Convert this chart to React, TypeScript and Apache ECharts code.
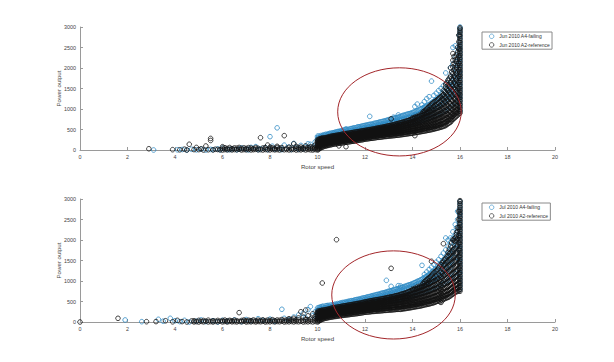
import { useEffect, useRef } from "react";
import * as echarts from "echarts";

type Row = number[];

const BLUE = "#2f8ac4";
const BLACK = "#111111";

const X_TICKS = { min: 0, max: 20, interval: 2 };
const Y_TICKS = { min: 0, max: 3000, interval: 500 };

const seriesNames = [
  "Jun 2010 A4-failing",
  "Jun 2010 A2-reference",
  "Jul 2010 A4-failing",
  "Jul 2010 A2-reference",
];

// ---------- June 2010, A4 failing (blue) ----------
const junFailLow: Row[] = [
  [3.1, 0], [4.1, 5], [4.3, 12], [4.5, 0], [4.7, 18], [4.9, 4], [5.1, 22], [5.3, 0], [5.5, 14],
  [5.6, 8], [5.8, 26], [5.9, 2], [6.0, 44], [6.2, 12], [6.3, 8], [6.4, 30], [6.6, 6], [6.7, 20],
  [6.8, 52], [7.0, 18], [7.1, 5], [7.2, 64], [7.4, 82], [7.5, 10], [7.6, 28], [7.8, 58], [7.9, 12],
  [8.0, 325], [8.1, 92], [8.2, 25], [8.3, 540], [8.4, 36], [8.5, 10], [8.6, 118], [8.8, 72],
  [8.9, 15], [9.0, 160], [9.1, 48], [9.2, 20], [9.3, 112], [9.4, 30], [9.5, 86], [9.6, 150],
  [9.7, 138], [9.8, 58], [9.9, 196],
];
const junFailBand: Row[] = [
  [10.0, 130, 215, 290, 335], [10.1, 165, 240, 310], [10.2, 185, 265, 345], [10.3, 215, 285, 360],
  [10.4, 220, 305, 375], [10.5, 245, 320, 400], [10.6, 250, 335, 405], [10.7, 275, 350, 425],
  [10.8, 280, 365, 440], [10.9, 295, 370, 455], [11.0, 300, 390, 465], [11.1, 315, 400, 485],
  [11.2, 330, 410, 490, 515], [11.3, 340, 425, 500], [11.4, 355, 430, 520], [11.5, 360, 455, 535],
  [11.6, 375, 460, 540], [11.7, 380, 470, 565], [11.8, 400, 485, 570], [11.9, 410, 500, 585],
  [12.0, 420, 505, 600], [12.1, 435, 525, 610], [12.2, 440, 530, 625, 820], [12.3, 455, 545, 630],
  [12.4, 460, 550, 650], [12.5, 475, 570, 660], [12.6, 480, 585, 680], [12.7, 495, 590, 690],
  [12.8, 500, 610, 705], [12.9, 515, 620, 720], [13.0, 520, 635, 740], [13.1, 530, 640, 755],
  [13.2, 545, 660, 770, 800], [13.3, 560, 670, 785], [13.4, 570, 690, 800, 855], [13.5, 585, 700, 820],
  [13.6, 590, 720, 845], [13.7, 610, 735, 860], [13.8, 620, 750, 875], [13.9, 640, 770, 890],
  [14.0, 655, 780, 910], [14.1, 670, 805, 930, 1060], [14.2, 680, 820, 960, 1120],
  [14.3, 700, 845, 990], [14.4, 720, 870, 1010, 1100], [14.5, 740, 890, 1045, 1180],
  [14.6, 765, 910, 1070, 1250], [14.7, 780, 945, 1100, 1300], [14.8, 805, 970, 1140, 1680],
  [14.9, 820, 1000, 1185, 1330], [15.0, 850, 1035, 1220, 1385], [15.1, 875, 1060, 1265, 1450],
  [15.2, 900, 1105, 1300, 1500], [15.3, 935, 1140, 1350, 1565], [15.4, 960, 1185, 1400, 1620, 1880],
  [15.5, 1005, 1230, 1460, 1705], [15.6, 1050, 1295, 1530, 1780, 2010],
  [15.7, 1100, 1350, 1605, 1860, 2100, 2500], [15.8, 1155, 1420, 1700, 1985, 2260, 2540],
  [15.9, 1250, 1505, 1800, 2100, 2400],
  [15.97, 1300, 1600, 1900, 2200, 2500, 2800],
  [16.0, 950, 1030, 1110, 1190, 1270, 1350, 1430, 1510, 1590, 1670, 1750, 1830, 1910, 1990, 2070,
    2150, 2230, 2310, 2390, 2470, 2550, 2630, 2710, 2790, 2870, 2940, 3000],
];
const junFailBandMid: Row[] = [
  [10.05, 250, 300, 340], [10.15, 270, 320, 355], [10.25, 285, 335, 370], [10.35, 300, 350, 385],
  [10.45, 310, 360, 395], [10.55, 325, 375, 410], [10.65, 335, 385, 420], [10.75, 345, 400, 435],
  [10.85, 355, 410, 450], [10.95, 365, 420, 460], [11.05, 380, 430, 475], [11.15, 390, 445, 490],
  [11.25, 400, 455, 500], [11.35, 410, 465, 510], [11.45, 420, 480, 525], [11.55, 430, 490, 540],
  [11.65, 440, 500, 550], [11.75, 450, 515, 565], [11.85, 460, 525, 578], [11.95, 470, 538, 592],
  [12.05, 482, 548, 605], [12.15, 492, 560, 618], [12.25, 502, 572, 630], [12.35, 512, 585, 642],
  [12.45, 524, 598, 655], [12.55, 536, 610, 668], [12.65, 546, 622, 684], [12.75, 556, 636, 698],
  [12.85, 568, 650, 712], [12.95, 580, 662, 728], [13.05, 592, 676, 745], [13.15, 605, 690, 760],
  [13.25, 618, 705, 776], [13.35, 632, 720, 792], [13.45, 646, 736, 810], [13.55, 660, 752, 828],
  [13.65, 676, 770, 848], [13.75, 692, 788, 866], [13.85, 710, 806, 884], [13.95, 728, 826, 902],
  [14.05, 748, 846, 924], [14.15, 770, 868, 948], [14.25, 792, 892, 975], [14.35, 816, 918, 1002],
  [14.45, 842, 946, 1032], [14.55, 870, 976, 1064], [14.65, 900, 1008, 1098], [14.75, 932, 1042, 1134],
  [14.85, 966, 1078, 1172], [14.95, 1002, 1116, 1212], [15.05, 1040, 1158, 1260],
  [15.15, 1082, 1204, 1312], [15.25, 1128, 1254, 1368], [15.35, 1180, 1310, 1430],
  [15.45, 1238, 1374, 1500], [15.55, 1304, 1446, 1580], [15.65, 1380, 1530, 1680],
  [15.75, 1470, 1630, 1800], [15.85, 1580, 1760, 1950, 2150],
];

// ---------- June 2010, A2 reference (black) ----------
const junRefLow: Row[] = [
  [2.9, 30], [3.9, 8], [4.2, 5], [4.4, 20], [4.5, 0], [4.6, 140], [4.8, 10], [4.9, 62], [5.0, 10],
  [5.1, 28], [5.2, 0], [5.3, 98], [5.4, 6], [5.5, 232, 282], [5.6, 2], [5.7, 18], [5.8, 12], [5.9, 6],
  [6.0, 0, 42, 80], [6.1, 10, 55], [6.2, 4, 38], [6.3, 15, 60], [6.4, 2, 34], [6.5, 12, 50],
  [6.6, 6, 44], [6.7, 18, 62], [6.8, 0, 36], [6.9, 10, 52], [7.0, 4, 40], [7.1, 14, 58],
  [7.2, 2, 46], [7.3, 8, 34], [7.4, 16, 60], [7.5, 4, 42], [7.6, 10, 300], [7.7, 0, 48],
  [7.8, 12, 56], [7.9, 6, 120], [8.0, 2, 40, 70], [8.1, 14, 52], [8.2, 4, 36], [8.3, 10, 62, 90],
  [8.4, 0, 44], [8.5, 16, 58], [8.6, 6, 350], [8.7, 12, 40], [8.8, 2, 66], [8.9, 8, 48],
  [9.0, 14, 150], [9.1, 0, 42, 88], [9.2, 10, 60], [9.3, 4, 36, 72], [9.4, 16, 54],
  [9.5, 2, 40, 100], [9.6, 12, 62], [9.7, 6, 46, 80], [9.8, 0, 34, 70], [9.9, 10, 50, 120],
];
const junRefBand: Row[] = [
  [10.0, 0, 28, 62, 95, 118, 152, 186, 214, 250], [10.1, 42, 77, 108, 146, 183, 212, 248, 272],
  [10.2, 68, 104, 143, 171, 208, 247, 276, 292], [10.3, 93, 122, 158, 197, 228, 262, 298],
  [10.4, 104, 143, 172, 214, 243, 281, 308], [10.5, 122, 151, 193, 222, 262, 291, 324],
  [10.6, 133, 172, 203, 244, 272, 313, 337], [10.7, 148, 178, 219, 248, 287, 318, 348],
  [10.8, 153, 194, 222, 263, 296, 332, 357], [10.9, 100, 166, 198, 238, 268, 307, 338, 366],
  [11.0, 172, 207, 238, 279, 308, 347, 378], [11.1, 178, 218, 248, 288, 323, 352, 392],
  [11.2, 80, 192, 223, 263, 292, 333, 362, 401], [11.3, 198, 238, 268, 307, 342, 373, 408],
  [11.4, 207, 242, 279, 312, 348, 383, 417], [11.5, 214, 253, 283, 324, 353, 392, 428],
  [11.6, 226, 258, 297, 328, 367, 398, 437], [11.7, 233, 272, 303, 343, 372, 412, 446],
  [11.8, 246, 278, 318, 348, 388, 418, 457], [11.9, 252, 293, 322, 363, 392, 433, 466],
  [12.0, 267, 298, 338, 368, 408, 438, 477], [12.1, 273, 313, 343, 383, 413, 453, 486],
  [12.2, 282, 318, 357, 388, 427, 458, 497], [12.3, 288, 332, 362, 402, 433, 472, 508],
  [12.4, 297, 337, 377, 408, 447, 483, 516], [12.5, 306, 344, 383, 421, 458, 497, 532],
  [12.6, 312, 352, 392, 428, 467, 506, 541], [12.7, 318, 361, 398, 441, 477, 514, 552],
  [12.8, 327, 366, 409, 447, 488, 527, 563], [12.9, 332, 376, 413, 458, 494, 538, 576],
  [13.0, 338, 381, 423, 463, 507, 546, 592], [13.1, 344, 387, 432, 474, 513, 558, 604, 760],
  [13.2, 351, 396, 438, 483, 526, 567, 617], [13.3, 357, 401, 448, 491, 536, 582, 632],
  [13.4, 363, 411, 454, 503, 548, 593, 648], [13.5, 372, 417, 466, 511, 561, 608, 663],
  [13.6, 378, 427, 473, 524, 572, 621, 681], [13.7, 388, 434, 486, 533, 587, 636, 697],
  [13.8, 396, 446, 494, 548, 598, 652, 716], [13.9, 404, 452, 507, 557, 613, 668, 737],
  [14.0, 413, 464, 516, 572, 626, 686, 758, 782], [14.1, 350, 422, 472, 529, 583, 641, 703, 776, 802],
  [14.2, 431, 484, 538, 598, 654, 722, 797, 824], [14.3, 442, 494, 552, 611, 672, 741, 818, 852],
  [14.4, 452, 507, 563, 627, 688, 762, 839, 883], [14.5, 463, 517, 579, 641, 708, 783, 862, 911, 952],
  [14.6, 474, 531, 592, 658, 726, 806, 887, 942, 1003],
  [14.7, 486, 543, 608, 674, 748, 828, 914, 982, 1062],
  [14.8, 498, 558, 622, 694, 768, 853, 943, 1023, 1118],
  [14.9, 511, 571, 639, 712, 792, 878, 973, 1066, 1163],
  [15.0, 526, 588, 657, 734, 816, 906, 1004, 1107, 1202],
  [15.1, 542, 604, 677, 756, 842, 937, 1038, 1146, 1254],
  [15.2, 558, 623, 698, 781, 871, 968, 1074, 1188, 1302],
  [15.3, 577, 644, 722, 808, 902, 1004, 1113, 1232, 1351, 1452],
  [15.4, 598, 668, 748, 838, 936, 1042, 1157, 1282, 1414, 1538, 1602],
  [15.5, 648, 712, 788, 872, 966, 1074, 1188, 1312, 1446, 1584, 1702],
  [15.6, 678, 752, 833, 923, 1021, 1128, 1244, 1372, 1508, 1652, 1804, 2002],
  [15.7, 748, 822, 904, 994, 1092, 1198, 1314, 1438, 1572, 1716, 1868, 2024, 2186, 2352],
  [15.8, 798, 872, 952, 1042, 1138, 1244, 1358, 1482, 1614, 1756, 1904, 2062, 2204],
  [15.9, 848, 918, 996, 1082, 1176, 1278, 1388, 1506, 1632, 1766, 1908, 2058, 2214, 2372, 2502],
  [15.95, 880, 960, 1050, 1150, 1260, 1380, 1510, 1650, 1800, 1960, 2120, 2290, 2460, 2640, 2800],
  [16.0, 900, 945, 990, 1040, 1085, 1130, 1180, 1225, 1270, 1320, 1365, 1410, 1460, 1505, 1550,
    1600, 1645, 1690, 1740, 1785, 1830, 1880, 1925, 1970, 2020, 2065, 2110, 2160, 2205, 2250,
    2300, 2345, 2390, 2440, 2485, 2530, 2580, 2625, 2670, 2720, 2765, 2810, 2860, 2905, 2950, 2980],
];
const junRefBandMid: Row[] = [
  [10.05, 15, 52, 88, 126, 163, 198, 232, 262], [10.15, 58, 94, 128, 162, 196, 231, 262, 284],
  [10.25, 82, 117, 152, 186, 221, 256, 288], [10.35, 98, 134, 168, 203, 238, 272, 303],
  [10.45, 113, 148, 184, 218, 254, 287, 316], [10.55, 127, 162, 197, 233, 267, 302, 331],
  [10.65, 140, 174, 211, 246, 281, 316, 343], [10.75, 151, 186, 221, 256, 292, 326, 352],
  [10.85, 159, 196, 231, 266, 302, 336, 362], [10.95, 168, 203, 238, 273, 308, 343, 372],
  [11.05, 176, 212, 246, 283, 317, 352, 385], [11.15, 185, 221, 256, 292, 327, 362, 396],
  [11.25, 194, 231, 266, 302, 337, 372, 404], [11.35, 203, 238, 274, 309, 346, 381, 412],
  [11.45, 211, 247, 282, 318, 353, 389, 422], [11.55, 219, 256, 291, 327, 362, 398, 432],
  [11.65, 229, 264, 301, 336, 372, 407, 441], [11.75, 239, 274, 311, 346, 382, 417, 451],
  [11.85, 248, 284, 321, 356, 393, 428, 461], [11.95, 259, 294, 331, 367, 403, 438, 471],
  [12.05, 269, 306, 341, 378, 413, 449, 482], [12.15, 277, 314, 351, 388, 424, 461, 492],
  [12.25, 284, 322, 359, 397, 434, 472, 502], [12.35, 292, 331, 369, 407, 445, 482, 512],
  [12.45, 301, 341, 379, 418, 457, 494, 524], [12.55, 308, 348, 389, 428, 468, 506, 536],
  [12.65, 314, 356, 397, 437, 478, 518, 547], [12.75, 322, 364, 406, 448, 489, 530, 557],
  [12.85, 329, 372, 414, 457, 499, 541, 569], [12.95, 336, 379, 423, 466, 509, 552, 583],
  [13.05, 341, 386, 431, 475, 519, 563, 597], [13.15, 348, 393, 439, 485, 530, 575, 611],
  [13.25, 354, 401, 447, 494, 541, 588, 624], [13.35, 361, 408, 456, 504, 552, 600, 640],
  [13.45, 367, 416, 465, 514, 563, 612, 656], [13.55, 375, 424, 474, 524, 575, 626, 672],
  [13.65, 383, 433, 484, 536, 587, 640, 689], [13.75, 392, 442, 494, 547, 600, 654, 707],
  [13.85, 400, 451, 505, 559, 614, 670, 726], [13.95, 409, 461, 516, 572, 629, 687, 748],
  [14.05, 418, 472, 528, 586, 645, 706, 770], [14.15, 427, 482, 540, 600, 662, 726, 792],
  [14.25, 437, 494, 553, 615, 680, 746, 814], [14.35, 447, 505, 567, 631, 698, 768, 838],
  [14.45, 458, 518, 581, 648, 718, 790, 866, 932], [14.55, 469, 531, 596, 665, 738, 814, 893, 975],
  [14.65, 480, 544, 612, 684, 760, 839, 921, 1032], [14.75, 492, 558, 629, 704, 783, 865, 952, 1088],
  [14.85, 504, 573, 646, 724, 806, 893, 984, 1140], [14.95, 518, 589, 665, 746, 832, 922, 1018, 1182],
  [15.05, 534, 607, 686, 770, 860, 954, 1054, 1228], [15.15, 550, 626, 708, 796, 890, 988, 1092, 1276],
  [15.25, 567, 647, 733, 825, 922, 1025, 1133, 1247, 1326],
  [15.35, 588, 670, 760, 856, 958, 1066, 1180, 1300, 1420],
  [15.45, 622, 700, 790, 886, 990, 1100, 1218, 1344, 1476, 1640],
  [15.55, 662, 740, 830, 928, 1034, 1148, 1270, 1400, 1536, 1750],
  [15.65, 712, 790, 878, 976, 1082, 1198, 1322, 1454, 1594, 1742, 1900],
  [15.75, 772, 850, 938, 1034, 1140, 1254, 1376, 1508, 1648, 1796, 1950, 2110, 2280],
  [15.85, 822, 900, 988, 1086, 1192, 1306, 1430, 1562, 1702, 1850, 2004, 2160, 2320],
];

// ---------- July 2010, A4 failing (blue) ----------
const julFailLow: Row[] = [
  [1.9, 50], [2.6, 8], [3.3, 65], [3.5, 20], [3.8, 90], [4.0, 30], [4.2, 10], [4.4, 40], [4.6, 0],
  [4.9, 20], [5.1, 50], [5.3, 10], [5.6, 30], [5.8, 0], [6.0, 40], [6.2, 20], [6.5, 50], [6.8, 10],
  [7.0, 60], [7.2, 30], [7.5, 80], [7.7, 40], [8.0, 70], [8.2, 20], [8.5, 310], [8.6, 90],
  [8.8, 50], [9.0, 120], [9.2, 170], [9.4, 210], [9.5, 100], [9.6, 300], [9.7, 375], [9.8, 150],
  [9.9, 250],
];
const julFailBand: Row[] = [
  [10.0, 120, 200, 280, 340], [10.1, 150, 230, 310, 360], [10.2, 180, 250, 330, 380],
  [10.3, 200, 270, 345], [10.4, 210, 290, 360, 400], [10.5, 230, 305, 380], [10.6, 240, 320, 390],
  [10.7, 260, 335, 410], [10.8, 270, 350, 420], [10.9, 285, 360, 440], [11.0, 300, 380, 460],
  [11.1, 310, 390, 470], [11.2, 320, 405, 480], [11.3, 330, 410, 500], [11.4, 340, 425, 510],
  [11.5, 350, 440, 520], [11.6, 360, 450, 540], [11.7, 370, 465, 550], [11.8, 390, 470, 560],
  [11.9, 400, 490, 580], [12.0, 410, 500, 590], [12.1, 420, 515, 610], [12.2, 430, 520, 620],
  [12.3, 440, 540, 640], [12.4, 450, 550, 650], [12.5, 460, 565, 670], [12.6, 470, 580, 680],
  [12.7, 480, 590, 700], [12.8, 490, 605, 710], [12.9, 500, 620, 730, 1016], [13.0, 510, 630, 750],
  [13.1, 520, 640, 760, 870], [13.2, 530, 660, 780], [13.3, 550, 670, 800],
  [13.4, 560, 690, 810, 886], [13.5, 570, 700, 830, 880], [13.6, 580, 720, 850],
  [13.7, 600, 730, 870], [13.8, 610, 750, 890], [13.9, 630, 770, 910], [14.0, 640, 790, 930],
  [14.1, 660, 810, 960], [14.2, 680, 830, 990], [14.3, 700, 850, 1010],
  [14.4, 720, 880, 1040, 1382], [14.5, 740, 900, 1080, 1160], [14.6, 760, 930, 1110, 1220],
  [14.7, 780, 960, 1150, 1280], [14.8, 800, 990, 1190, 1340], [14.9, 830, 1020, 1230, 1400],
  [15.0, 850, 1060, 1280, 1460], [15.1, 880, 1100, 1330, 1520], [15.2, 910, 1140, 1380, 1600],
  [15.3, 940, 1180, 1440, 1680], [15.4, 980, 1230, 1500, 1760, 2050],
  [15.5, 1020, 1280, 1570, 1850, 2000], [15.6, 1070, 1340, 1640, 1940, 2050],
  [15.7, 1120, 1400, 1720, 2040, 2200], [15.8, 1180, 1480, 1800, 2120, 2380],
  [15.9, 1250, 1560, 1900, 2240, 2500, 2700],
  [15.97, 1200, 1500, 1800, 2100, 2400, 2650],
  [16.0, 800, 880, 960, 1040, 1120, 1200, 1280, 1360, 1440, 1520, 1600, 1680, 1760, 1840, 1920,
    2000, 2080, 2160, 2240, 2320, 2400, 2480, 2560, 2640, 2720, 2800, 2880, 2940],
];
const julFailBandMid: Row[] = [
  [10.05, 240, 300, 350], [10.15, 265, 320, 370], [10.25, 280, 335, 385], [10.35, 295, 350, 395],
  [10.45, 308, 362, 405], [10.55, 320, 375, 415], [10.65, 330, 386, 425], [10.75, 340, 398, 438],
  [10.85, 350, 410, 450], [10.95, 362, 420, 462], [11.05, 374, 432, 475], [11.15, 384, 442, 486],
  [11.25, 394, 455, 498], [11.35, 404, 466, 510], [11.45, 414, 478, 522], [11.55, 424, 490, 535],
  [11.65, 434, 502, 548], [11.75, 446, 514, 560], [11.85, 458, 526, 574], [11.95, 470, 540, 588],
  [12.05, 482, 552, 602], [12.15, 494, 565, 616], [12.25, 506, 578, 630], [12.35, 518, 592, 646],
  [12.45, 530, 606, 660], [12.55, 542, 620, 675], [12.65, 554, 634, 690], [12.75, 566, 648, 706],
  [12.85, 580, 662, 722], [12.95, 594, 678, 740], [13.05, 608, 694, 756], [13.15, 622, 710, 772],
  [13.25, 638, 726, 790], [13.35, 654, 744, 808], [13.45, 670, 762, 826], [13.55, 686, 780, 846],
  [13.65, 704, 800, 866], [13.75, 722, 820, 886], [13.85, 742, 840, 906], [13.95, 762, 862, 926],
  [14.05, 784, 884, 948], [14.15, 806, 908, 974], [14.25, 830, 934, 1002], [14.35, 856, 962, 1032],
  [14.45, 884, 992, 1066], [14.55, 914, 1026, 1102], [14.65, 946, 1062, 1142], [14.75, 980, 1100, 1186],
  [14.85, 1016, 1142, 1232], [14.95, 1056, 1188, 1284], [15.05, 1100, 1238, 1340],
  [15.15, 1148, 1292, 1400], [15.25, 1200, 1352, 1466], [15.35, 1258, 1418, 1540],
  [15.45, 1322, 1490, 1624], [15.55, 1394, 1570, 1720], [15.65, 1476, 1660, 1830],
  [15.75, 1570, 1764, 1950], [15.85, 1680, 1886, 2090, 2300],
];

// ---------- July 2010, A2 reference (black) ----------
const julRefLow: Row[] = [
  [0, 0], [1.6, 90], [2.8, 8], [3.2, 10], [3.6, 30], [3.9, 5], [4.1, 40], [4.3, 10], [4.5, 0],
  [4.7, 25], [4.8, 2, 30], [4.9, 10], [5.0, 0, 40], [5.1, 14], [5.2, 4, 36], [5.3, 20],
  [5.4, 2, 44], [5.5, 12], [5.6, 0, 30], [5.7, 16], [5.8, 6, 38], [5.9, 20], [6.0, 2, 34],
  [6.1, 12, 46], [6.2, 0, 28], [6.3, 16, 40], [6.4, 4, 30], [6.5, 10, 44], [6.6, 2, 32],
  [6.7, 14, 228], [6.8, 6, 36], [6.9, 18, 48], [7.0, 0, 30], [7.1, 10, 42], [7.2, 4, 34],
  [7.3, 14, 50], [7.4, 2, 30], [7.5, 12, 44], [7.6, 6, 36], [7.7, 16, 52], [7.8, 0, 32],
  [7.9, 10, 46], [8.0, 4, 38], [8.1, 14, 56], [8.2, 2, 34], [8.3, 12, 48], [8.4, 6, 40],
  [8.5, 18, 60], [8.6, 0, 36], [8.7, 10, 50], [8.8, 4, 42, 80], [8.9, 14, 58], [9.0, 2, 40, 90],
  [9.1, 12, 54], [9.2, 6, 46, 100], [9.3, 16, 250], [9.4, 0, 40, 120], [9.5, 10, 60, 290],
  [9.6, 4, 50, 150], [9.7, 14, 70], [9.8, 2, 60, 200], [9.9, 12, 80, 140],
];
const julRefBand: Row[] = [
  [10.0, 0, 32, 66, 98, 127, 162, 194, 228, 260], [10.1, 38, 72, 106, 141, 177, 213, 244, 270],
  [10.2, 66, 101, 133, 168, 204, 238, 268, 291, 951], [10.3, 88, 122, 157, 188, 224, 257, 298],
  [10.4, 98, 136, 166, 204, 236, 274, 309], [10.5, 112, 146, 183, 214, 252, 284, 321],
  [10.6, 121, 158, 191, 228, 262, 298, 338], [10.7, 132, 166, 204, 237, 276, 311, 349],
  [10.8, 139, 177, 212, 251, 286, 322, 358, 2008], [10.9, 148, 186, 223, 258, 297, 333, 368],
  [11.0, 158, 196, 231, 268, 306, 342, 379], [11.1, 164, 203, 241, 277, 316, 352, 391],
  [11.2, 172, 211, 248, 288, 324, 363, 399], [11.3, 178, 218, 258, 296, 334, 372, 411],
  [11.4, 188, 226, 264, 306, 342, 383, 419], [11.5, 194, 236, 273, 313, 353, 391, 431],
  [11.6, 202, 242, 283, 322, 361, 402, 441], [11.7, 208, 251, 290, 332, 371, 411, 452],
  [11.8, 218, 258, 301, 341, 382, 422, 461], [11.9, 228, 268, 309, 352, 391, 433, 474],
  [12.0, 238, 278, 321, 361, 403, 443, 488], [12.1, 244, 286, 328, 372, 412, 456, 498],
  [12.2, 248, 292, 337, 379, 424, 466, 511], [12.3, 256, 301, 343, 389, 433, 477, 521],
  [12.4, 261, 306, 352, 397, 443, 487, 532], [12.5, 266, 313, 358, 407, 452, 498, 541],
  [12.6, 271, 318, 367, 413, 462, 507, 552], [12.7, 276, 326, 373, 423, 471, 518, 562],
  [12.8, 281, 331, 382, 431, 481, 528, 576], [12.9, 286, 338, 388, 441, 489, 539, 588],
  [13.0, 291, 343, 397, 448, 501, 549, 601], [13.1, 294, 348, 403, 458, 509, 561, 612, 1309],
  [13.2, 301, 356, 411, 466, 521, 572, 622], [13.3, 306, 362, 418, 476, 531, 586, 641],
  [13.4, 311, 368, 427, 484, 543, 598, 652], [13.5, 309, 376, 434, 496, 553, 612, 672],
  [13.6, 321, 382, 443, 506, 566, 626, 688], [13.7, 328, 391, 452, 517, 578, 642, 708],
  [13.8, 338, 399, 463, 528, 593, 657, 728], [13.9, 347, 408, 473, 541, 607, 676, 756],
  [14.0, 358, 418, 484, 553, 622, 694, 778, 801], [14.1, 368, 428, 496, 566, 638, 712, 792, 822],
  [14.2, 378, 441, 508, 581, 654, 732, 812, 852], [14.3, 388, 452, 522, 596, 671, 751, 832, 871],
  [14.4, 399, 464, 536, 611, 689, 772, 856, 902],
  [14.5, 418, 481, 552, 628, 709, 794, 879, 931, 981],
  [14.6, 428, 494, 568, 646, 729, 817, 906, 962, 1032],
  [14.7, 441, 508, 584, 664, 751, 841, 934, 1002, 1081],
  [14.8, 458, 524, 602, 686, 774, 867, 964, 1043, 1141, 1480],
  [14.9, 471, 541, 621, 707, 798, 893, 996, 1084, 1201],
  [15.0, 498, 563, 643, 731, 824, 922, 1028, 1124, 1252],
  [15.1, 518, 586, 668, 757, 853, 954, 1063, 1166, 1318],
  [15.2, 478, 541, 612, 694, 784, 882, 986, 1098, 1212, 1401],
  [15.3, 558, 631, 714, 806, 906, 1014, 1132, 1256, 1382, 1482, 1910],
  [15.4, 579, 654, 741, 836, 941, 1054, 1176, 1304, 1438, 1552],
  [15.5, 601, 678, 768, 868, 976, 1093, 1218, 1352, 1492, 1622, 1701],
  [15.6, 638, 716, 808, 908, 1018, 1138, 1266, 1402, 1546, 1698, 1852],
  [15.7, 681, 758, 848, 948, 1058, 1178, 1308, 1448, 1596, 1756, 2002],
  [15.8, 728, 803, 892, 992, 1102, 1222, 1352, 1492, 1642, 1802, 1968, 2052],
  [15.9, 748, 826, 918, 1022, 1136, 1260, 1394, 1538, 1692, 1856, 2028, 2206, 2302],
  [15.95, 760, 850, 950, 1060, 1180, 1310, 1450, 1600, 1760, 1930, 2110, 2300, 2500, 2700],
  [16.0, 750, 795, 840, 886, 931, 977, 1022, 1068, 1113, 1159, 1204, 1250, 1295, 1341, 1386,
    1432, 1477, 1523, 1568, 1614, 1659, 1705, 1750, 1796, 1841, 1887, 1932, 1978, 2023, 2069,
    2114, 2160, 2205, 2251, 2296, 2342, 2387, 2433, 2478, 2524, 2569, 2615, 2660, 2706, 2751,
    2797, 2842, 2888, 2933, 2960],
];
const julRefBandMid: Row[] = [
  [10.05, 18, 52, 86, 120, 158, 196, 236, 266], [10.15, 54, 88, 122, 158, 193, 228, 258, 281],
  [10.25, 78, 112, 146, 180, 214, 248, 284], [10.35, 93, 128, 162, 197, 231, 266, 303],
  [10.45, 106, 141, 176, 210, 245, 280, 315], [10.55, 117, 152, 187, 222, 257, 292, 330],
  [10.65, 126, 162, 198, 233, 269, 305, 344], [10.75, 135, 172, 208, 244, 281, 316, 354],
  [10.85, 144, 181, 218, 255, 292, 328, 363], [10.95, 153, 191, 228, 264, 302, 338, 374],
  [11.05, 161, 199, 236, 273, 311, 348, 385], [11.15, 168, 207, 245, 283, 320, 358, 395],
  [11.25, 175, 214, 253, 292, 330, 368, 405], [11.35, 183, 222, 261, 301, 339, 378, 415],
  [11.45, 191, 231, 269, 310, 348, 387, 425], [11.55, 198, 239, 278, 318, 357, 397, 436],
  [11.65, 205, 246, 287, 327, 366, 407, 447], [11.75, 213, 254, 296, 336, 376, 417, 457],
  [11.85, 223, 263, 305, 346, 387, 428, 468], [11.95, 233, 273, 315, 356, 397, 438, 481],
  [12.05, 241, 282, 325, 367, 408, 450, 493], [12.15, 246, 289, 332, 376, 418, 461, 505],
  [12.25, 252, 296, 340, 384, 428, 472, 516], [12.35, 258, 303, 348, 393, 438, 482, 527],
  [12.45, 263, 309, 355, 402, 447, 493, 537], [12.55, 268, 315, 362, 410, 457, 503, 547],
  [12.65, 273, 322, 370, 418, 466, 513, 557], [12.75, 278, 328, 378, 427, 476, 523, 569],
  [12.85, 283, 334, 385, 436, 485, 534, 582], [12.95, 288, 340, 392, 444, 495, 544, 595],
  [13.05, 292, 345, 400, 453, 505, 555, 607], [13.15, 297, 352, 407, 462, 515, 566, 617],
  [13.25, 303, 359, 414, 471, 526, 579, 632], [13.35, 308, 365, 422, 480, 537, 592, 646],
  [13.45, 312, 372, 430, 490, 548, 605, 662], [13.55, 315, 379, 438, 501, 560, 619, 680],
  [13.65, 324, 386, 447, 511, 572, 634, 698], [13.75, 333, 395, 458, 522, 585, 650, 718],
  [13.85, 342, 403, 468, 534, 600, 666, 742], [13.95, 352, 413, 478, 547, 614, 685, 767],
  [14.05, 363, 423, 490, 559, 630, 703, 785], [14.15, 373, 434, 502, 573, 646, 722, 802],
  [14.25, 383, 446, 515, 588, 662, 741, 822], [14.35, 393, 458, 529, 603, 680, 761, 844],
  [14.45, 408, 472, 544, 620, 699, 783, 867, 942], [14.55, 423, 488, 560, 637, 719, 805, 892, 1006],
  [14.65, 434, 501, 576, 655, 740, 829, 920, 1056], [14.75, 449, 516, 593, 675, 762, 854, 949, 1110],
  [14.85, 464, 532, 611, 696, 786, 880, 980, 1170], [14.95, 484, 552, 632, 719, 811, 907, 1012, 1226],
  [15.05, 508, 574, 655, 744, 838, 938, 1045, 1284],
  [15.15, 498, 563, 640, 725, 818, 918, 1024, 1136, 1358],
  [15.25, 519, 586, 663, 750, 845, 948, 1059, 1177, 1306, 1441],
  [15.35, 568, 642, 727, 821, 923, 1034, 1154, 1280, 1410, 1517],
  [15.45, 590, 666, 754, 852, 958, 1073, 1197, 1328, 1465, 1587],
  [15.55, 620, 697, 788, 888, 997, 1115, 1242, 1377, 1519, 1660, 1776],
  [15.65, 660, 737, 828, 928, 1038, 1158, 1287, 1425, 1571, 1727, 1926],
  [15.75, 704, 780, 870, 970, 1080, 1200, 1330, 1470, 1619, 1779, 1985, 2026],
  [15.85, 738, 814, 905, 1007, 1119, 1241, 1373, 1515, 1667, 1829, 1998, 2129, 2180],
];

// Highlight ellipses, in data units: [centerX, centerY, halfWidth, halfHeight]
const junEllipse = [13.45, 930, 2.6, 1075];
const julEllipse = [13.2, 660, 2.6, 1075];

const flat = (rows: Row[]) => rows.flatMap(([x, ...ys]) => ys.map((y) => [x, y]));

const FONT = "Liberation Sans, Arial, sans-serif";

function axisPair(gridIndex: number) {
  const common = {
    gridIndex,
    axisLine: { show: true, lineStyle: { color: "#9a9a9a", width: 1 } },
    axisTick: { show: true, inside: true, length: 3, lineStyle: { color: "#9a9a9a" } },
    splitLine: { show: false },
    nameMoveOverlap: false,
    nameTextStyle: { color: "#444", fontSize: 6.1, fontFamily: FONT },
  };
  const label = { color: "#444", fontSize: 5.4, fontFamily: FONT, margin: 4, formatter: (v: number) => String(v) };
  return {
    x: {
      ...common,
      type: "value",
      ...X_TICKS,
      name: "Rotor speed",
      nameLocation: "middle",
      nameGap: 13,
      axisLabel: label,
    },
    y: {
      ...common,
      type: "value",
      ...Y_TICKS,
      name: "Power output",
      nameLocation: "middle",
      nameGap: 19,
      axisLabel: label,
    },
  };
}

function scatter(name: string, rows: Row[][], color: string, idx: number) {
  return {
    type: "scatter",
    name,
    xAxisIndex: idx,
    yAxisIndex: idx,
    symbol: "circle",
    symbolSize: 4.6,
    silent: true,
    large: false,
    data: rows.flatMap(flat),
    itemStyle: { color: "rgba(0,0,0,0)", borderColor: color, borderWidth: 1 },
  };
}

function legendFor(names: string[], top: number) {
  return {
    orient: "vertical",
    left: 482,
    top,
    itemWidth: 5,
    itemHeight: 4.5,
    itemGap: 2.6,
    padding: [1.3, 2, 1.3, 7],
    borderColor: "#8a8a8a",
    borderWidth: 1,
    backgroundColor: "#fff",
    selectedMode: false,
    textStyle: { fontSize: 5, lineHeight: 6, color: "#333", fontFamily: FONT },
    data: names.map((n, i) => ({
      name: n,
      icon: "circle",
      itemStyle: { color: "rgba(0,0,0,0)", borderColor: i === 0 ? BLUE : BLACK, borderWidth: 0.8 },
    })),
  };
}

export default function App() {
  const ref = useRef<HTMLDivElement>(null);
  useEffect(() => {
    if (!ref.current) return;
    const chart = echarts.init(ref.current, undefined, { renderer: "svg" });
    const a0 = axisPair(0);
    const a1 = axisPair(1);
    chart.setOption({
      animation: false,
      backgroundColor: "#fff",
      grid: [
        { left: 80, width: 475, top: 27, height: 123 },
        { left: 80, width: 475, top: 199, height: 123 },
      ],
      xAxis: [a0.x, a1.x],
      yAxis: [a0.y, a1.y],
      legend: [legendFor(seriesNames.slice(0, 2), 32), legendFor(seriesNames.slice(2, 4), 203)],
      series: [
        scatter(seriesNames[0], [junFailLow, junFailBand, junFailBandMid], BLUE, 0),
        scatter(seriesNames[1], [junRefLow, junRefBand, junRefBandMid], BLACK, 0),
        scatter(seriesNames[2], [julFailLow, julFailBand, julFailBandMid], BLUE, 1),
        scatter(seriesNames[3], [julRefLow, julRefBand, julRefBandMid], BLACK, 1),
      ],
    });
    const ell = (e: number[], i: number) => {
      const finder = { xAxisIndex: i, yAxisIndex: i };
      const c = chart.convertToPixel(finder, [e[0], e[1]]) as number[];
      const p = chart.convertToPixel(finder, [e[0] + e[2], e[1] + e[3]]) as number[];
      return {
        type: "ellipse",
        silent: true,
        z: 100,
        shape: { cx: c[0], cy: c[1], rx: p[0] - c[0], ry: c[1] - p[1] },
        style: { fill: "none", stroke: "#a3262a", lineWidth: 1 },
      };
    };
    chart.setOption({ graphic: [ell(junEllipse, 0), ell(julEllipse, 1)] });
    return () => chart.dispose();
  }, []);
  return (
    <div
      ref={ref}
      style={{ position: "absolute", left: 0, top: 0, width: 614, height: 362, background: "#fff" }}
    />
  );
}
